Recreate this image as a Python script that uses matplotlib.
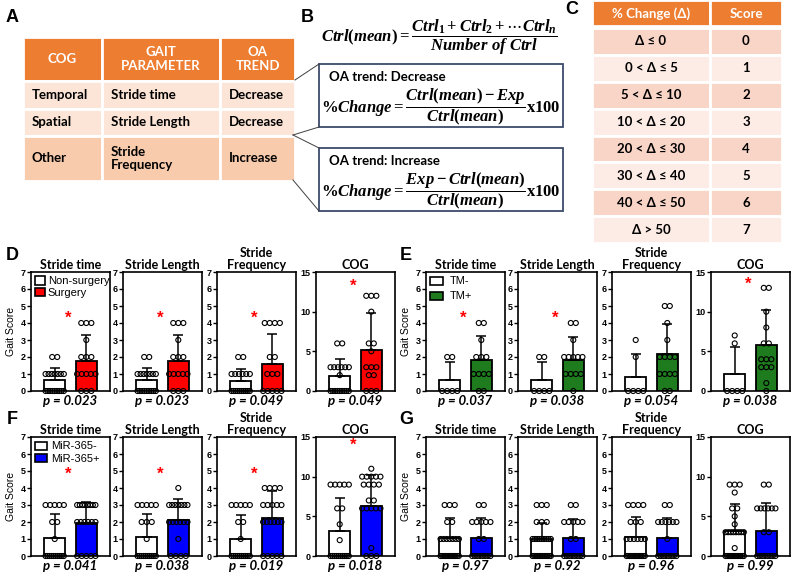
import numpy as np
import matplotlib
matplotlib.use('Agg')
import matplotlib.pyplot as plt
from matplotlib.patches import Rectangle, Patch

plt.rcParams['mathtext.fontset'] = 'custom'
plt.rcParams['mathtext.it'] = 'Liberation Serif:bold:italic'
plt.rcParams['mathtext.rm'] = 'Liberation Serif:bold'
plt.rcParams['mathtext.bf'] = 'Liberation Serif:bold'

TXT = ['Lato', 'DejaVu Sans']
ARIAL = 'Liberation Sans'

# ---------------- data ----------------
# panel A table
A_header = ['COG', 'GAIT\nPARAMETER', 'OA\nTREND']
A_rows = [['Temporal', 'Stride time', 'Decrease'],
          ['Spatial', 'Stride Length', 'Decrease'],
          ['Other', 'Stride\nFrequency', 'Increase']]

# panel C table
C_header = ['% Change (\u0394)', 'Score']
C_ranges = ['\u0394 \u2264 0', '0 < \u0394 \u2264 5', '5 < \u0394 \u2264 10', '10 < \u0394 \u2264 20',
            '20 < \u0394 \u2264 30', '30 < \u0394 \u2264 40', '40 < \u0394 \u2264 50', '\u0394 > 50']
C_scores = ['0', '1', '2', '3', '4', '5', '6', '7']

params = ['Stride time', 'Stride Length', 'Stride\nFrequency', 'COG']

# panel D: Non-surgery vs Surgery
D_labels = ['Non-surgery', 'Surgery']
D_means = [[0.65, 1.75], [0.65, 1.75], [0.6, 1.6], [1.85, 5.2]]
D_sd = [[0.7, 1.52], [0.7, 1.52], [0.7, 1.73], [2.15, 4.65]]
D_ctrl = [[0]*9 + [1]*7 + [2]*2,
          [0]*9 + [1]*7 + [2]*2,
          [0]*10 + [1]*6 + [2]*2,
          [0]*9 + [2] + [3]*6 + [6]*2]
D_exp = [[0]*3 + [1]*5 + [2]*3 + [3] + [4]*3,
         [0]*3 + [1]*5 + [2]*3 + [3] + [4]*3,
         [0]*5 + [1]*3 + [2]*2 + [4]*4,
         [0]*3 + [2]*2 + [3]*3 + [5] + [6]*2 + [10] + [12]*3]
D_p = ['0.023', '0.023', '0.049', '0.049']
D_star = [4.3, 4.3, 4.3, 13.2]

# panel E: TM- vs TM+
E_labels = ['TM-', 'TM+']
E_means = [[0.65, 1.8], [0.65, 1.85], [0.8, 2.15], [2.1, 5.85]]
E_sd = [[1.05, 1.45], [1.05, 1.3], [1.35, 1.77], [3.4, 4.35]]
E_ctrl = [[0]*4 + [2]*2,
          [0]*4 + [2]*2,
          [0]*4 + [2] + [3],
          [0]*4 + [6] + [7]]
E_exp = [[0]*2 + [1]*4 + [2]*3 + [3] + [4]*2,
         [0] + [1]*4 + [2]*5 + [3] + [4]*2,
         [0]*2 + [1]*4 + [2]*4 + [3] + [4] + [5]*2,
         [0] + [1] + [3]*3 + [4]*3 + [6]*2 + [8] + [10] + [13]*2]
E_p = ['0.037', '0.038', '0.054', '0.038']
E_star = [4.3, 4.3, None, 13.5]

# panel F: MiR-365- vs MiR-365+
F_labels = ['MiR-365-', 'MiR-365+']
F_means = [[1.07, 1.92], [1.1, 2.1], [1.0, 2.25], [3.2, 6.3]]
F_sd = [[1.38, 1.28], [1.4, 1.28], [1.42, 1.55], [4.1, 3.85]]
F_ctrl = [[0]*10 + [1] + [2]*2 + [3]*5,
          [0]*10 + [1] + [2]*3 + [3]*5,
          [0]*10 + [1] + [2]*2 + [3]*5,
          [0]*10 + [2] + [4] + [6]*2 + [9]*5]
F_exp = [[0]*5 + [2]*6 + [3]*8,
         [0]*4 + [1] + [2]*6 + [3]*7 + [4],
         [0]*5 + [2]*6 + [3]*5 + [4]*4,
         [0]*3 + [1] + [6]*5 + [7]*2 + [9]*4 + [10]*5 + [11]]
F_p = ['0.041', '0.038', '0.019', '0.018']
F_star = [4.8, 4.8, 4.8, 14.0]

# panel G: MiR-365- vs MiR-365+ (no difference)
G_means = [[1.05, 1.05], [1.0, 1.05], [1.1, 1.05], [3.2, 3.2]]
G_sd = [[1.2, 1.2], [0.95, 1.15], [1.2, 1.2], [3.4, 3.5]]
G_ctrl = [[0]*12 + [1]*7 + [2]*2 + [3]*3,
          [0]*12 + [1]*9 + [2]*3 + [3]*3,
          [0]*12 + [1]*6 + [2]*3 + [3]*4,
          [0]*12 + [1] + [3]*8 + [4] + [5] + [6]*2 + [8] + [9]*3]
G_exp = [[0]*8 + [1]*2 + [2]*5 + [3]*2,
         [0]*8 + [1]*2 + [2]*5 + [3]*2,
         [0]*8 + [1] + [2]*6 + [3]*2,
         [0]*8 + [3]*2 + [6]*6 + [9]*2]
G_p = ['0.97', '0.92', '0.96', '0.99']
G_star = [None, None, None, None]

RED = '#FF0000'
GREEN = '#1E7B1E'
BLUE = '#0000FF'
ORANGE = '#ED7D31'

W, H = 791, 573
fig = plt.figure(figsize=(W / 100, H / 100), dpi=100)
ov = fig.add_axes([0, 0, 1, 1])
ov.set_xlim(0, W)
ov.set_ylim(H, 0)
ov.axis('off')

# panel letters
for lt, (x, y) in zip('ABCDEFG', [(12, 18), (307, 17), (572, 10), (12, 256),
                                    (406, 256), (12, 420), (406, 420)]):
    ov.text(x, y, lt, fontsize=13, fontweight='bold', family=ARIAL, ha='center', va='center')

# ---------------- panel A ----------------
ax_cols = [23, 102, 220, 295]
ax_rows = [37, 81, 109, 136, 181]
row_cols = ['#FCE4D6', '#FCE4D6', '#F8CBAD']
for j in range(3):
    ov.add_patch(Rectangle((ax_cols[j], ax_rows[0]), ax_cols[j + 1] - ax_cols[j], ax_rows[1] - ax_rows[0],
                           facecolor=ORANGE, edgecolor='white', lw=2))
    ov.text((ax_cols[j] + ax_cols[j + 1]) / 2, (ax_rows[0] + ax_rows[1]) / 2, A_header[j],
            color='white', fontsize=9.5, fontweight='bold', family=TXT, ha='center', va='center',
            linespacing=1.1)
for i, row in enumerate(A_rows):
    for j in range(3):
        ov.add_patch(Rectangle((ax_cols[j], ax_rows[i + 1]), ax_cols[j + 1] - ax_cols[j],
                               ax_rows[i + 2] - ax_rows[i + 1],
                               facecolor=row_cols[i], edgecolor='white', lw=2))
        ov.text(ax_cols[j] + 9, (ax_rows[i + 1] + ax_rows[i + 2]) / 2, row[j],
                fontsize=9.5, fontweight='bold', family=TXT, ha='left', va='center', linespacing=1.1)

# connector lines
for (x1, y1), (x2, y2) in [((295, 80), (319, 64)), ((293, 135), (319, 127)),
                           ((293, 135), (319, 148)), ((293, 180), (319, 211))]:
    ov.plot([x1, x2], [y1, y2], color='#404040', lw=0.7)

# ---------------- panel B ----------------
ov.text(439, 37, r'$Ctrl(mean) = \dfrac{Ctrl_1 + Ctrl_2 + \cdots Ctrl_n}{Number\ of\ Ctrl}$',
        fontsize=12, ha='center', va='center')
for (y0, y1), trend, formula in [((64, 127), 'OA trend: Decrease',
                                  r'$\%Change = \dfrac{Ctrl(mean) - Exp}{Ctrl(mean)}\mathrm{x100}$'),
                                 ((148, 211), 'OA trend: Increase',
                                  r'$\%Change = \dfrac{Exp - Ctrl(mean)}{Ctrl(mean)}\mathrm{x100}$')]:
    ov.add_patch(Rectangle((319, y0), 244, y1 - y0, facecolor='white', edgecolor='#3B4A6B', lw=1.3))
    ov.text(329, y0 + 13, trend, fontsize=9.5, fontweight='bold', family=TXT, ha='left', va='center')
    ov.text(441, y0 + 43, formula, fontsize=12, ha='center', va='center')

# ---------------- panel C ----------------
c_cols = [592, 710, 782]
ov.add_patch(Rectangle((c_cols[0], 0), c_cols[1] - c_cols[0], 26, facecolor=ORANGE, edgecolor='white', lw=2))
ov.add_patch(Rectangle((c_cols[1], 0), c_cols[2] - c_cols[1], 26, facecolor=ORANGE, edgecolor='white', lw=2))
for j in range(2):
    ov.text((c_cols[j] + c_cols[j + 1]) / 2, 14, C_header[j], color='white', fontsize=9.5,
            fontweight='bold', family=TXT, ha='center', va='center')
rh = (243 - 28) / 8
for i in range(8):
    fc = '#F9D5C7' if i % 2 == 0 else '#FDECE6'
    y = 28 + i * rh
    for j in range(2):
        ov.add_patch(Rectangle((c_cols[j], y), c_cols[j + 1] - c_cols[j], rh, facecolor=fc,
                               edgecolor='white', lw=2))
    ov.text((c_cols[0] + c_cols[1]) / 2, y + rh / 2, C_ranges[i], fontsize=9.5, fontweight='bold',
            family=TXT, ha='center', va='center')
    ov.text((c_cols[1] + c_cols[2]) / 2, y + rh / 2, C_scores[i], fontsize=9.5, fontweight='bold',
            family=TXT, ha='center', va='center')


# ---------------- bar panels ----------------
def spread(vals, step=0.16, maxw=0.58):
    vals = np.asarray(vals)
    xs = np.zeros(len(vals))
    for v in np.unique(vals):
        idx = np.where(vals == v)[0]
        k = len(idx)
        if k > 1:
            st = min(step, maxw / (k - 1))
            xs[idx] = (np.arange(k) - (k - 1) / 2) * st
    return xs


def draw_group(x0, top, means, sds, ctrl, exp, pvals, stars, color, labels=None, leg=None):
    lefts = [x0, x0 + 92, x0 + 186, x0 + 285]
    height = 119
    for k in range(4):
        ax = fig.add_axes([lefts[k] / W, (H - top - height) / H, 79 / W, height / H])
        ymax = 15 if k == 3 else 7
        ax.bar([0, 1], means[k], width=0.66, color=['white', color], edgecolor='black', lw=1.3, zorder=1)
        for b in range(2):
            ax.errorbar(b, means[k][b], yerr=[[0], [sds[k][b]]], color='black', capsize=3.6,
                        elinewidth=1.1, capthick=1.1, zorder=2)
        for b, pts in enumerate([ctrl[k], exp[k]]):
            ax.scatter(b + spread(pts), pts, s=13, facecolor='none', edgecolor='black',
                       linewidth=0.8, zorder=3, clip_on=False)
        ax.set_xlim(-0.75, 1.75)
        ax.set_ylim(0, ymax)
        ax.set_xticks([])
        ax.set_yticks([0, 5, 10, 15] if k == 3 else range(8))
        ax.tick_params(axis='y', length=3, width=1, pad=1, labelsize=6.5)
        for lab in ax.get_yticklabels():
            lab.set_family(ARIAL)
            lab.set_fontweight('bold')
        for sp in ax.spines.values():
            sp.set_linewidth(1.2)
        ax.set_title(params[k], fontsize=9, fontweight='bold', family=TXT, pad=2, linespacing=1.0)
        ax.text(0.5, -0.03, 'p = ' + pvals[k], transform=ax.transAxes, ha='center', va='top',
                fontsize=9.5, fontweight='bold', style='italic', family=TXT)
        if stars[k] is not None:
            ax.text(0.42, stars[k], '*', color=RED, fontsize=12, fontweight='bold',
                    ha='center', va='center', family=ARIAL)
        if k == 0:
            ax.set_ylabel('Gait Score', fontsize=7.5, family=ARIAL, labelpad=3)
            if labels is not None:
                hs = [Patch(facecolor='white', edgecolor='black', lw=1.2, label=labels[0]),
                      Patch(facecolor=color, edgecolor='black', lw=1.2, label=labels[1])]
                ax.legend(handles=hs, loc='upper left', frameon=False,
                          handlelength=leg[0], handleheight=0.75, handletextpad=leg[1],
                          labelspacing=leg[2], borderaxespad=0.3, borderpad=0.1,
                          prop={'family': ARIAL, 'size': 8})


# legend spacing: handle length, text pad, label spacing
draw_group(31, 272, D_means, D_sd, D_ctrl, D_exp, D_p, D_star, RED, D_labels, (0.9, 0.2, 0.1))
draw_group(426, 272, E_means, E_sd, E_ctrl, E_exp, E_p, E_star, GREEN, E_labels, (1.1, 0.6, 0.45))
draw_group(31, 437, F_means, F_sd, F_ctrl, F_exp, F_p, F_star, BLUE, F_labels, (1.0, 0.4, 0.2))
draw_group(426, 437, G_means, G_sd, G_ctrl, G_exp, G_p, G_star, BLUE)

fig.savefig('out.png', dpi=100)
